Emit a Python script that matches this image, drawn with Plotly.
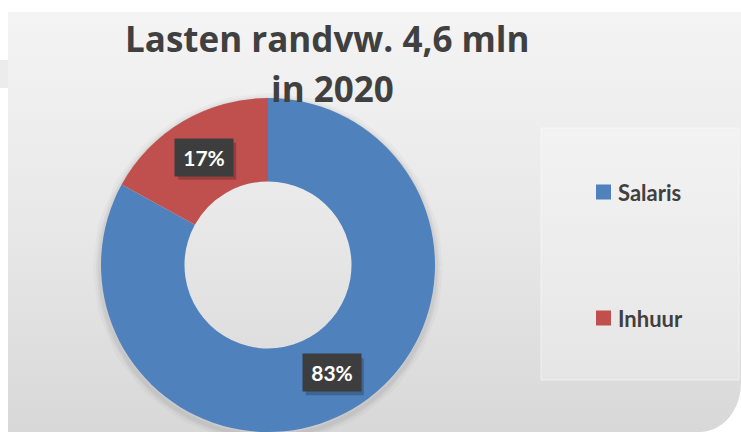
import math
import numpy as np
import plotly.graph_objects as go

# ---- data ----
LABELS = ["Salaris", "Inhuur"]
VALUES = [83, 17]
COLORS = ["#4F81BD", "#C0504D"]
TITLE_LINES = ["Lasten randvw. 4,6 mln", "in 2020"]

W, H = 741, 432
TEXT = "#404040"
FONT = "Lato"
TITLE_FONT = "Open Sans"

# pie geometry (pixels)
PX0, PX1, PTOP = 101, 435, 98
R = (PX1 - PX0) / 2
CX = (PX0 + PX1) / 2
CY = PTOP + R


def px(x):
    return x / W


def py(y):
    return 1 - y / H


fig = go.Figure()

# background panel with gradient, drawn in a hidden pixel-space cartesian subplot
t = np.linspace(0, math.pi / 2, 20)
corner_x = list(700 + 41 * np.cos(t))
corner_y = list(383 + 49 * np.sin(t))
bx = [8, W] + corner_x + [8, 8]
by = [12, 12] + corner_y + [H, 12]
fig.add_trace(go.Scatter(
    x=bx, y=by, mode="lines", fill="toself", line=dict(width=0),
    fillgradient=dict(type="vertical", start=12, stop=H,
                      colorscale=[[0, "#f4f4f4"], [0.5, "#e8e8e8"], [1, "#d8d8d8"]]),
    hoverinfo="skip", showlegend=False))
# small tab on left
fig.add_trace(go.Scatter(
    x=[0, 8, 8, 0, 0], y=[60, 60, 88, 88, 60], mode="lines", fill="toself",
    line=dict(width=0), fillcolor="#ececec", hoverinfo="skip", showlegend=False))
# soft shadow around the donut
for w_, a_ in [(14, 0.025), (8, 0.035), (4, 0.04)]:
    tt = np.linspace(0, 2 * math.pi, 120)
    fig.add_trace(go.Scatter(
        x=list(CX + (R + 1) * np.cos(tt)), y=list(CY + 3 + (R + 1) * np.sin(tt)),
        mode="lines", line=dict(width=w_, color=f"rgba(0,0,0,{a_})"),
        hoverinfo="skip", showlegend=False))

fig.add_trace(go.Pie(
    labels=LABELS, values=VALUES, hole=0.5, sort=False, direction="clockwise",
    rotation=0, textinfo="none", marker=dict(colors=COLORS, line=dict(width=0)),
    domain=dict(x=[px(PX0), px(PX1)], y=[0, py(PTOP)]), showlegend=False))

annotations = []
shapes = []
# title
annotations.append(dict(text=TITLE_LINES[0], x=px(327), y=py(38), xref="paper", yref="paper",
                        showarrow=False, xanchor="center", yanchor="middle",
                        font=dict(family=TITLE_FONT, size=35, color=TEXT, weight="bold")))
annotations.append(dict(text=TITLE_LINES[1], x=px(332), y=py(88), xref="paper", yref="paper",
                        showarrow=False, xanchor="center", yanchor="middle",
                        font=dict(family=TITLE_FONT, size=35, color=TEXT, weight="bold")))

# data labels
total = sum(VALUES)
cum = 0
BW, BH = 58, 37
for v in VALUES:
    mid = (cum + v / 2) / total * 2 * math.pi
    cum += v
    r = 0.75 * R
    lx = CX + r * math.sin(mid)
    ly = CY - r * math.cos(mid)
    pct = f"{round(v / total * 100)}%"
    shapes.append(dict(type="rect", xref="paper", yref="paper",
                       x0=px(lx - BW / 2 + 3), x1=px(lx + BW / 2 + 3),
                       y0=py(ly + BH / 2 + 4), y1=py(ly - BH / 2 + 4),
                       fillcolor="rgba(0,0,0,0.22)", line=dict(width=0), layer="above"))
    annotations.append(dict(text=pct, x=px(lx), y=py(ly), xref="paper", yref="paper",
                            showarrow=False, xanchor="center", yanchor="middle",
                            width=BW - 8, height=BH - 8, borderpad=4,
                            bgcolor="#3d3d3d",
                            font=dict(family=FONT, size=21, color="white", weight="bold")))

# legend (manual)
shapes.append(dict(type="rect", xref="paper", yref="paper", x0=px(541), x1=px(739), y0=py(380), y1=py(128),
                   fillcolor="rgba(255,255,255,0.28)", line=dict(width=1, color="rgba(255,255,255,0.5)"),
                   layer="above"))
LEG_Y = [192, 318]
for lab, col, yy in zip(LABELS, COLORS, LEG_Y):
    shapes.append(dict(type="rect", xref="paper", yref="paper", x0=px(596), x1=px(611),
                       y0=py(yy + 7.5), y1=py(yy - 7.5), fillcolor=col, line=dict(width=0),
                       layer="above"))
    annotations.append(dict(text=lab, x=px(616), y=py(yy), xref="paper", yref="paper",
                            showarrow=False, xanchor="left", yanchor="middle",
                            font=dict(family=FONT, size=22, color=TEXT, weight="bold")))

fig.update_layout(
    width=W, height=H, margin=dict(l=0, r=0, t=0, b=0),
    paper_bgcolor="white", plot_bgcolor="rgba(0,0,0,0)",
    xaxis=dict(range=[0, W], visible=False, fixedrange=True),
    yaxis=dict(range=[H, 0], visible=False, fixedrange=True),
    annotations=annotations, shapes=shapes, showlegend=False,
)

fig.write_html("out.html")
